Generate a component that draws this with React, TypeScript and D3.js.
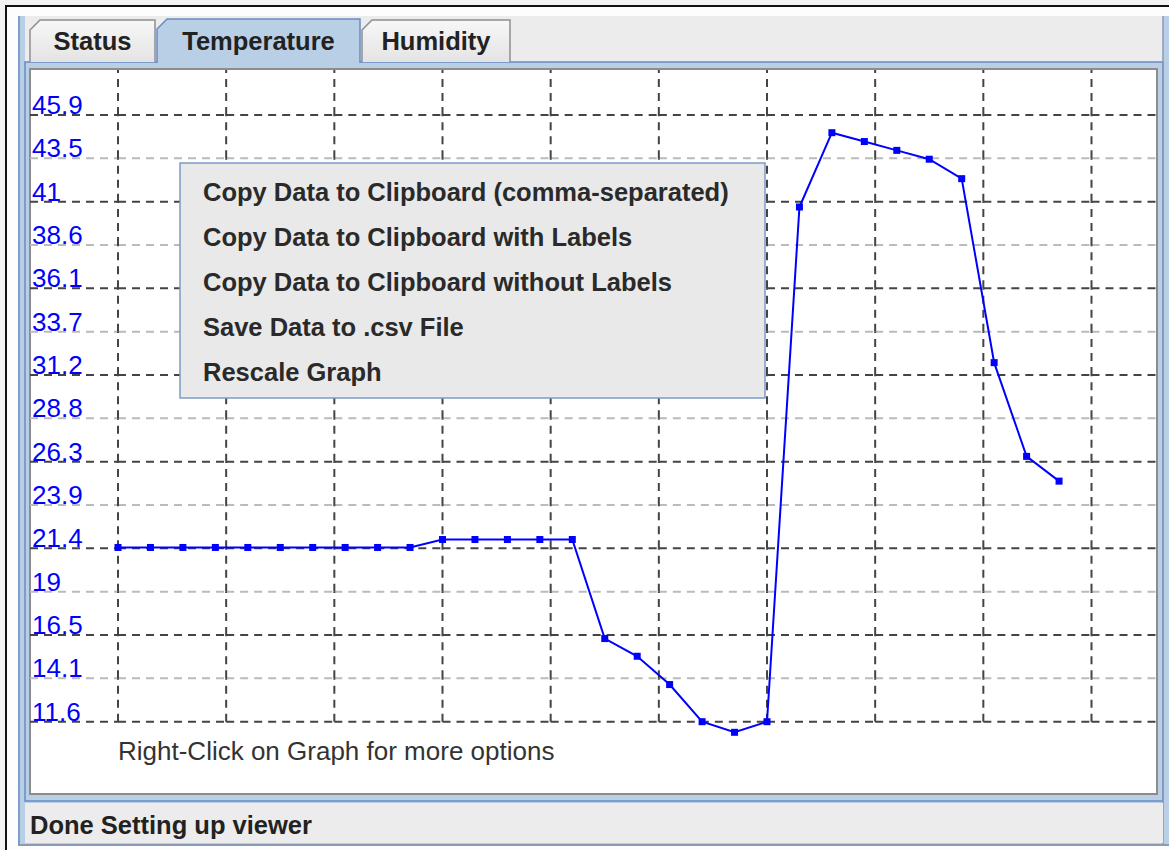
import React from "react";
import * as d3 from "d3";

// sample times (s) and temperature readings
const sampleTimes = [0, 3, 6, 9, 12, 15, 18, 21, 24, 27, 30, 33, 36, 39, 42, 45, 48, 51, 54, 57, 60, 63, 66, 69, 72, 75, 78, 81, 84, 87];
const temperatures = [
  21.45, 21.45, 21.45, 21.45, 21.45, 21.45, 21.45, 21.45, 21.45, 21.45,
  21.9, 21.9, 21.9, 21.9, 21.9,
  16.3, 15.3, 13.7, 11.6, 11.0, 11.6,
  40.7, 44.9, 44.4, 43.9, 43.4, 42.3,
  31.9, 26.6, 25.2,
];

const yTicks = [11.6, 14.05, 16.5, 18.95, 21.4, 23.85, 26.3, 28.75, 31.2, 33.65, 36.1, 38.55, 41, 43.45, 45.9];
const yTickLabels = ["11.6", "14.1", "16.5", "19", "21.4", "23.9", "26.3", "28.8", "31.2", "33.7", "36.1", "38.6", "41", "43.5", "45.9"];
const xGridTicks = [0, 10, 20, 30, 40, 50, 60, 70, 80, 90];

const tabNames = ["Status", "Temperature", "Humidity"];
const menuItems = [
  "Copy Data to Clipboard (comma-separated)",
  "Copy Data to Clipboard with Labels",
  "Copy Data to Clipboard without Labels",
  "Save Data to .csv File",
  "Rescale Graph",
];

const FONT = "'Liberation Sans', Arial, sans-serif";
const BLUE_LIGHT = "#b8cfe5";
const BLUE_EDGE = "#6a8bc2";

export default function App() {
  const W = 1169;
  const H = 850;
  const plot = { left: 30, right: 1157, top: 69, bottom: 794 };

  const x = d3.scaleLinear().domain([0, 90]).range([118, 1091.5]);
  const y = d3.scaleLinear().domain([11.6, 45.9]).range([721.7, 115]);

  const line = d3
    .line<number>()
    .x((d, i) => x(sampleTimes[i]))
    .y((d) => y(d));

  // horizontal grid drawn cell by cell, left to right
  const xs = [plot.left, ...xGridTicks.map((t) => x(t)), plot.right];
  const hSegs: { x1: number; x2: number; y: number; major: boolean }[] = [];
  yTicks.forEach((t, k) => {
    for (let j = 0; j < xs.length - 1; j++) {
      hSegs.push({ x1: xs[j], x2: xs[j + 1], y: y(t), major: k % 2 === 0 });
    }
  });

  // vertical grid drawn cell by cell, bottom to top
  const ys = [...yTicks.map((t) => y(t)), plot.top + 1];
  const vSegs: { x: number; y1: number; y2: number }[] = [];
  xGridTicks.forEach((t) => {
    for (let j = 0; j < ys.length - 1; j++) {
      vSegs.push({ x: x(t), y1: ys[j], y2: ys[j + 1] });
    }
  });

  const tabs = [
    { x0: 30, x1: 155, top: 20, selected: false },
    { x0: 157, x1: 360, top: 19, selected: true },
    { x0: 362, x1: 510, top: 20, selected: false },
  ];
  const tabPath = (t: { x0: number; x1: number; top: number }, bottom: number) =>
    `M${t.x0},${bottom} L${t.x0},${t.top + 10} L${t.x0 + 10},${t.top} L${t.x1},${t.top} L${t.x1},${bottom}`;

  return (
    <div style={{ position: "absolute", left: 0, top: 0 }}>
      <svg width={W} height={H} style={{ display: "block", fontFamily: FONT }}>
        <defs>
          <linearGradient id="tabGrad" x1="0" y1="0" x2="0" y2="1">
            <stop offset="0" stopColor="#f7f7f7" />
            <stop offset="1" stopColor="#e4e4e4" />
          </linearGradient>
        </defs>
        <rect x={0} y={0} width={W} height={H} fill="#f3f3f3" />
        <rect x={6} y={6} width={W} height={H} fill="#fdfdfd" />
        <line x1={5} y1={6} x2={W} y2={6} stroke="#111" strokeWidth={2} />
        <line x1={6} y1={5} x2={6} y2={H} stroke="#111" strokeWidth={2} />

        {/* outer frame */}
        <rect x={18} y={16} width={W - 18} height={830} fill={BLUE_LIGHT} />
        <line x1={19} y1={16} x2={19} y2={846} stroke={BLUE_EDGE} strokeWidth={1.5} />
        <line x1={18} y1={845} x2={W} y2={845} stroke="#8a9ab8" strokeWidth={2} />
        <rect x={25} y={16} width={1138} height={46} fill="#ececec" />

        {/* content pane */}
        <rect x={25} y={62} width={1138} height={739} fill={BLUE_LIGHT} stroke={BLUE_EDGE} strokeWidth={1.5} />
        <line x1={1163} y1={16} x2={1163} y2={845} stroke="#8a9ab8" strokeWidth={1.5} />
        <rect x={plot.left} y={plot.top} width={plot.right - plot.left} height={plot.bottom - plot.top} fill="#ffffff" stroke="#8c8c8c" strokeWidth={2} />

        {/* tabs */}
        {tabs.map((t, i) => (
          <g key={tabNames[i]}>
            <path
              d={tabPath(t, t.selected ? 63 : 62) + " Z"}
              fill={t.selected ? BLUE_LIGHT : "url(#tabGrad)"}
              stroke="none"
            />
            <path
              d={tabPath(t, t.selected ? 63 : 62)}
              fill="none"
              stroke={t.selected ? BLUE_EDGE : "#8e8e8e"}
              strokeWidth={1.5}
            />
            <text
              x={(t.x0 + t.x1) / 2}
              y={50}
              textAnchor="middle"
              fontSize={25.5}
              fontWeight="bold"
              fill="#222"
            >
              {tabNames[i]}
            </text>
          </g>
        ))}

        {/* grid */}
        <g fill="none" strokeWidth={2} strokeDasharray="8 6">
          {hSegs.map((s, i) => (
            <line key={"h" + i} x1={s.x1} x2={s.x2} y1={s.y} y2={s.y} stroke={s.major ? "#444" : "#bbb"} />
          ))}
          {vSegs.map((s, i) => (
            <line key={"v" + i} x1={s.x} x2={s.x} y1={s.y1} y2={s.y2} stroke="#444" />
          ))}
        </g>

        {/* y labels */}
        {yTicks.map((t, i) => (
          <text key={"yl" + i} x={32} y={y(t) - 1} fontSize={26} fill="#0000ff">
            {yTickLabels[i]}
          </text>
        ))}

        {/* data */}
        <path d={line(temperatures) || ""} fill="none" stroke="#0000ff" strokeWidth={2} />
        {temperatures.map((v, i) => (
          <rect key={"p" + i} x={x(sampleTimes[i]) - 3.5} y={y(v) - 3.5} width={7} height={7} fill="#0000ff" />
        ))}

        <text x={118} y={760} fontSize={26} fill="#333">
          Right-Click on Graph for more options
        </text>

        {/* popup menu */}
        <rect x={180} y={163} width={585} height={235} fill="#e9e9e9" stroke="#7d9bc9" strokeWidth={1.5} />
        {menuItems.map((m, i) => (
          <text key={m} x={203} y={201 + i * 45} fontSize={25.5} fontWeight="bold" fill="#2a2a2a">
            {m}
          </text>
        ))}

        {/* status bar */}
        <rect x={25} y={803} width={1138} height={40} fill="#ececec" />
        <text x={30} y={834} fontSize={25.5} fontWeight="bold" fill="#222">
          Done Setting up viewer
        </text>
      </svg>
    </div>
  );
}
